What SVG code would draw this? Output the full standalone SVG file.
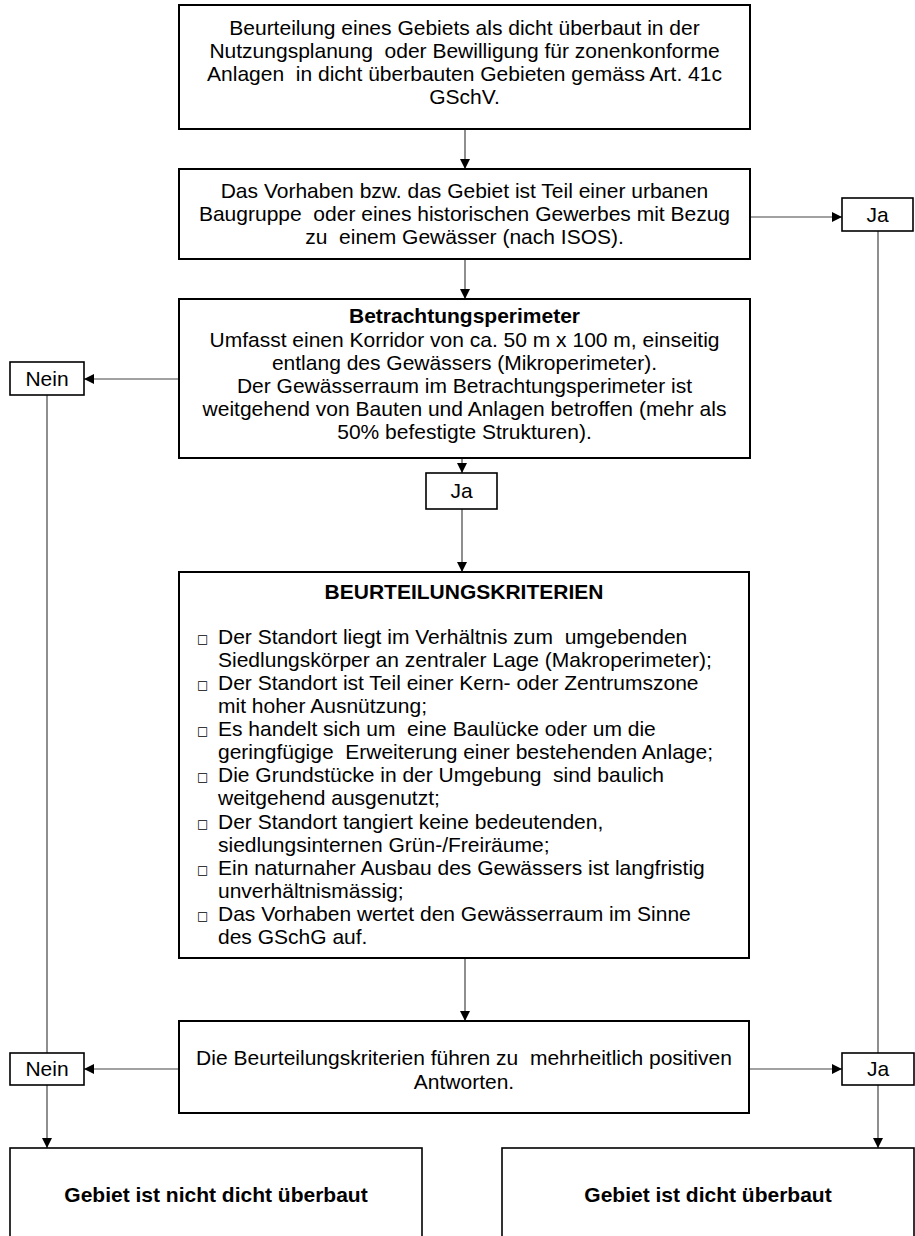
<svg xmlns="http://www.w3.org/2000/svg" width="915" height="1236" viewBox="0 0 915 1236">
<style>
.box{fill:#fff;stroke:#000;stroke-width:2}
.sm{fill:#fff;stroke:#000;stroke-width:1.6}
.t{font-family:"Liberation Sans",Arial,sans-serif;font-size:21px;fill:#000;white-space:pre}
.c{text-anchor:middle}
.b{font-weight:bold}
.bul{font-family:"DejaVu Sans",sans-serif;font-size:12px;fill:#000}
.ln{fill:none;stroke:#444;stroke-width:1.2}
</style>
<defs>
<marker id="ah" markerWidth="10" markerHeight="10" refX="10" refY="5" orient="auto" markerUnits="userSpaceOnUse">
<path d="M0,0 L10,5 L0,10 Z" fill="#000"/>
</marker>
</defs>
<g id="connectors">
<line class="ln" x1="465" y1="129" x2="465" y2="169" marker-end="url(#ah)"/>
<line class="ln" x1="750" y1="217" x2="842" y2="217" marker-end="url(#ah)"/>
<line class="ln" x1="878" y1="231" x2="878" y2="1053"/>
<line class="ln" x1="465" y1="259" x2="465" y2="299" marker-end="url(#ah)"/>
<line class="ln" x1="179" y1="379" x2="84" y2="379" marker-end="url(#ah)"/>
<line class="ln" x1="47" y1="394" x2="47" y2="1053"/>
<line class="ln" x1="462" y1="458" x2="462" y2="473" marker-end="url(#ah)"/>
<line class="ln" x1="462" y1="509" x2="462" y2="572" marker-end="url(#ah)"/>
<line class="ln" x1="465" y1="958" x2="465" y2="1021" marker-end="url(#ah)"/>
<line class="ln" x1="179" y1="1069" x2="84" y2="1069" marker-end="url(#ah)"/>
<line class="ln" x1="749" y1="1069" x2="842" y2="1069" marker-end="url(#ah)"/>
<line class="ln" x1="47" y1="1085" x2="47" y2="1148" marker-end="url(#ah)"/>
<line class="ln" x1="878" y1="1085" x2="878" y2="1148" marker-end="url(#ah)"/>
</g>
<g id="start">
<rect class="box" x="179" y="5" width="571" height="124"/>
<text class="t c" x="464.5" y="35">Beurteilung eines Gebiets als dicht überbaut in der</text>
<text class="t c" x="464.5" y="58">Nutzungsplanung  oder Bewilligung für zonenkonforme</text>
<text class="t c" x="464.5" y="81">Anlagen  in dicht überbauten Gebieten gemäss Art. 41c</text>
<text class="t c" x="464.5" y="104">GSchV.</text>
</g>
<g id="isos">
<rect class="box" x="179" y="169" width="571" height="90"/>
<text class="t c" x="464.5" y="198">Das Vorhaben bzw. das Gebiet ist Teil einer urbanen</text>
<text class="t c" x="464.5" y="221">Baugruppe  oder eines historischen Gewerbes mit Bezug</text>
<text class="t c" x="464.5" y="244">zu  einem Gewässer (nach ISOS).</text>
</g>
<g id="ja-top">
<rect class="sm" x="842" y="198" width="71" height="33"/>
<text class="t c" x="877.5" y="222">Ja</text>
</g>
<g id="perimeter">
<rect class="box" x="179" y="299" width="571" height="159"/>
<text class="t c b" x="464.5" y="323">Betrachtungsperimeter</text>
<text class="t c" x="464.5" y="347">Umfasst einen Korridor von ca. 50 m x 100 m, einseitig</text>
<text class="t c" x="464.5" y="370">entlang des Gewässers (Mikroperimeter).</text>
<text class="t c" x="464.5" y="393">Der Gewässerraum im Betrachtungsperimeter ist</text>
<text class="t c" x="464.5" y="416">weitgehend von Bauten und Anlagen betroffen (mehr als</text>
<text class="t c" x="464.5" y="439">50% befestigte Strukturen).</text>
</g>
<g id="nein-top">
<rect class="sm" x="10" y="362" width="74" height="33"/>
<text class="t c" x="47" y="386">Nein</text>
</g>
<g id="ja-mid">
<rect class="sm" x="426" y="473" width="71" height="36"/>
<text class="t c" x="461.5" y="498">Ja</text>
</g>
<g id="kriterien">
<rect class="box" x="179" y="572" width="570" height="386"/>
<text class="t c b" x="464" y="599">BEURTEILUNGSKRITERIEN</text>
<g class="bul">
<text x="197" y="643">□</text>
<text x="197" y="689">□</text>
<text x="197" y="735">□</text>
<text x="197" y="781">□</text>
<text x="197" y="828">□</text>
<text x="197" y="874">□</text>
<text x="197" y="920">□</text>
</g>
<text class="t" x="218" y="644">Der Standort liegt im Verhältnis zum  umgebenden</text>
<text class="t" x="218" y="667">Siedlungskörper an zentraler Lage (Makroperimeter);</text>
<text class="t" x="218" y="690">Der Standort ist Teil einer Kern- oder Zentrumszone</text>
<text class="t" x="218" y="713">mit hoher Ausnützung;</text>
<text class="t" x="218" y="736">Es handelt sich um  eine Baulücke oder um die</text>
<text class="t" x="218" y="759">geringfügige  Erweiterung einer bestehenden Anlage;</text>
<text class="t" x="218" y="782">Die Grundstücke in der Umgebung  sind baulich</text>
<text class="t" x="218" y="805">weitgehend ausgenutzt;</text>
<text class="t" x="218" y="829">Der Standort tangiert keine bedeutenden,</text>
<text class="t" x="218" y="852">siedlungsinternen Grün-/Freiräume;</text>
<text class="t" x="218" y="875">Ein naturnaher Ausbau des Gewässers ist langfristig</text>
<text class="t" x="218" y="898">unverhältnismässig;</text>
<text class="t" x="218" y="921">Das Vorhaben wertet den Gewässerraum im Sinne</text>
<text class="t" x="218" y="944">des GSchG auf.</text>
</g>
<g id="entscheid">
<rect class="box" x="179" y="1021" width="570" height="92"/>
<text class="t c" x="464" y="1065">Die Beurteilungskriterien führen zu  mehrheitlich positiven</text>
<text class="t c" x="464" y="1089">Antworten.</text>
</g>
<g id="nein-bottom">
<rect class="sm" x="10" y="1053" width="74" height="32"/>
<text class="t c" x="47" y="1076">Nein</text>
</g>
<g id="ja-bottom">
<rect class="sm" x="842" y="1053" width="72" height="32"/>
<text class="t c" x="878" y="1076">Ja</text>
</g>
<g id="nicht-dicht">
<rect class="sm" x="10" y="1148" width="412" height="100"/>
<text class="t c b" x="216" y="1202">Gebiet ist nicht dicht überbaut</text>
</g>
<g id="dicht">
<rect class="sm" x="502" y="1148" width="412" height="100"/>
<text class="t c b" x="708" y="1202">Gebiet ist dicht überbaut</text>
</g>
</svg>
